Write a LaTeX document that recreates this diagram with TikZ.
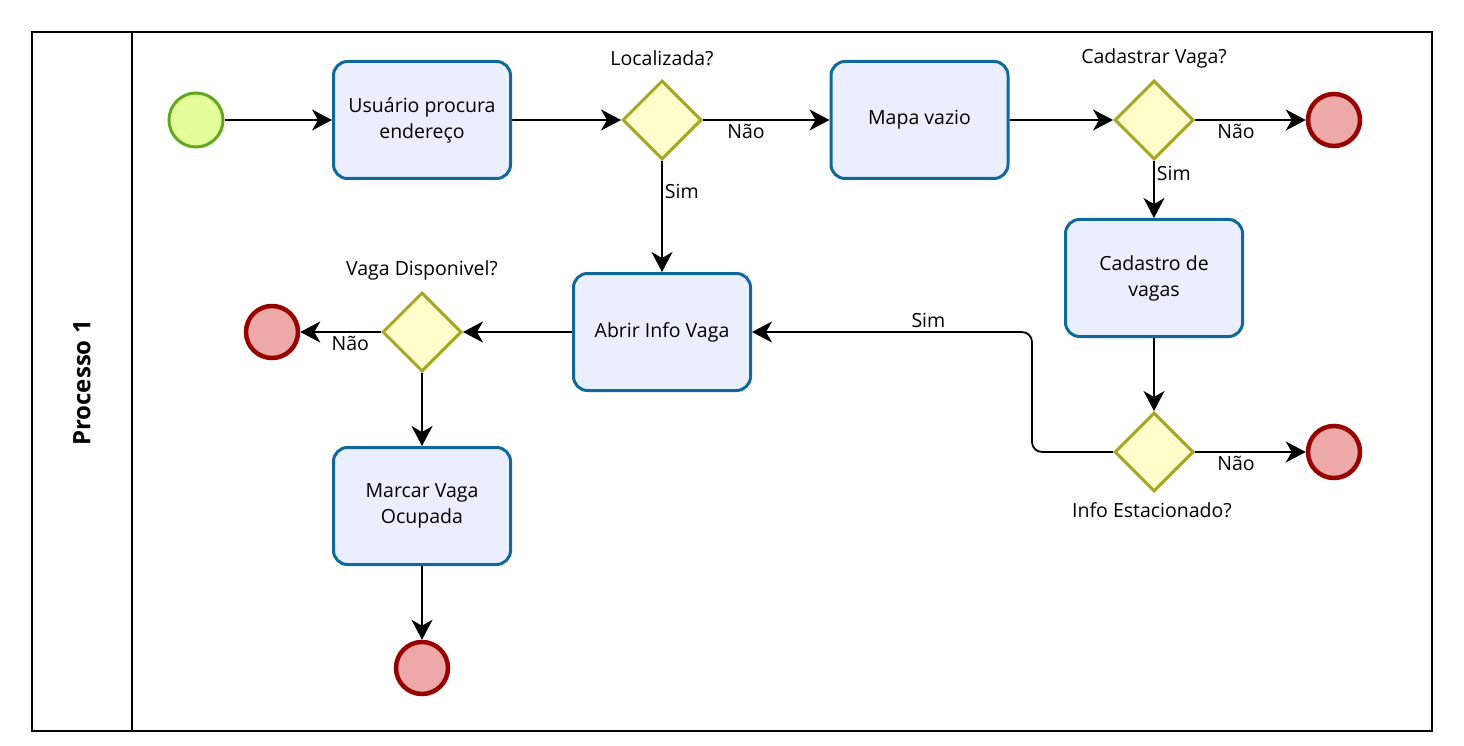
\documentclass[tikz,border=0pt]{standalone}
\usepackage{fontspec}
\setmainfont{Open Sans}
\usetikzlibrary{shapes.geometric,arrows.meta}
\definecolor{taskfill}{HTML}{EBEFFD}
\definecolor{taskline}{HTML}{10699A}
\definecolor{gwfill}{HTML}{FFFFCC}
\definecolor{gwline}{HTML}{A6A620}
\definecolor{stfill}{HTML}{E4FF99}
\definecolor{stline}{HTML}{62A91F}
\definecolor{endfill}{HTML}{EDA8A8}
\definecolor{endline}{HTML}{990000}
\tikzset{
  task/.style={draw=taskline, fill=taskfill, line width=3pt, rounded corners=14pt,
    minimum width=177pt, minimum height=117pt, align=center, inner sep=0pt, font=\fontsize{19.5}{26}\selectfont},
  gw/.style={diamond, draw=gwline, fill=gwfill, line width=3pt, minimum width=79pt, minimum height=79pt, inner sep=0pt},
  startev/.style={circle, draw=stline, fill=stfill, line width=3pt, minimum size=54pt, inner sep=0pt},
  endev/.style={circle, draw=endline, fill=endfill, line width=4.5pt, minimum size=52pt, inner sep=0pt},
  lbl/.style={font=\fontsize{19.5}{23}\selectfont, inner sep=1pt},
  flow/.style={line width=1.8pt, -{Stealth[length=20pt,width=21pt,inset=6pt]}}
}
\begin{document}
\begin{tikzpicture}[x=1pt,y=-1pt]
\useasboundingbox (0,0) rectangle (1464,746);
\fill[white] (0,0) rectangle (1464,746);
% pool
\draw[line width=2.2pt] (32,32) rectangle (1432,731);
\draw[line width=2.2pt] (132,32) -- (132,731);
\node[rotate=90, font=\bfseries\fontsize{24}{28}\selectfont] (pool) at (82,383) {Processo 1};
% nodes
\node[startev] (start) at (196,120) {};
\node[task] (t1) at (422,120) {Usuário procura\\endereço};
\node[gw] (g1) at (662,120) {};
\node[task] (t2) at (919.5,120) {Mapa vazio};
\node[gw] (g2) at (1154,120) {};
\node[endev] (e1) at (1334,120) {};
\node[task] (t3) at (1154,278) {Cadastro de\\vagas};
\node[gw] (g3) at (1154,452) {};
\node[endev] (e2) at (1334,452) {};
\node[task] (t4) at (662,332) {Abrir Info Vaga};
\node[gw] (g4) at (422,332) {};
\node[endev] (e3) at (272,332) {};
\node[task] (t5) at (422,506) {Marcar Vaga\\Ocupada};
\node[endev] (e4) at (422,668) {};
% labels
\node[lbl] (l1) at (662,58) {Localizada?};
\node[lbl] (l2) at (1154,58) {Cadastrar Vaga?};
\node[lbl] (l3) at (1152,510) {Info Estacionado?};
\node[lbl] (l4) at (422,270) {Vaga Disponivel?};
% flows
\draw[flow] (start) -- (t1);
\draw[flow] (t1) -- (g1.west);
\draw[flow] (g1.east) -- node[lbl, below=2pt, pos=0.34] (n1) {Não} (t2);
\draw[flow] (g1.south) -- node[lbl, right=1pt, pos=0.27] (s1) {Sim} (t4);
\draw[flow] (t2) -- (g2.west);
\draw[flow] (g2.east) -- node[lbl, below=2pt, pos=0.37] (n2) {Não} (e1);
\draw[flow] (g2.south) -- node[lbl, right=1pt, pos=0.22] (s2) {Sim} (t3);
\draw[flow] (t3) -- (g3.north);
\draw[flow] (g3.east) -- node[lbl, below=2pt, pos=0.37] (n3) {Não} (e2);
\draw[flow, rounded corners=10pt] (g3.west) -- (1032,452) -- (1032,332) -- node[lbl, above=2pt, pos=0.37] (s3) {Sim} (t4.east);
\draw[flow] (t4) -- (g4.east);
\draw[flow] (g4.west) -- node[lbl, below=2pt, pos=0.38] (n4) {Não} (e3);
\draw[flow] (g4.south) -- (t5);
\draw[flow] (t5) -- (e4);
\end{tikzpicture}
\end{document}
